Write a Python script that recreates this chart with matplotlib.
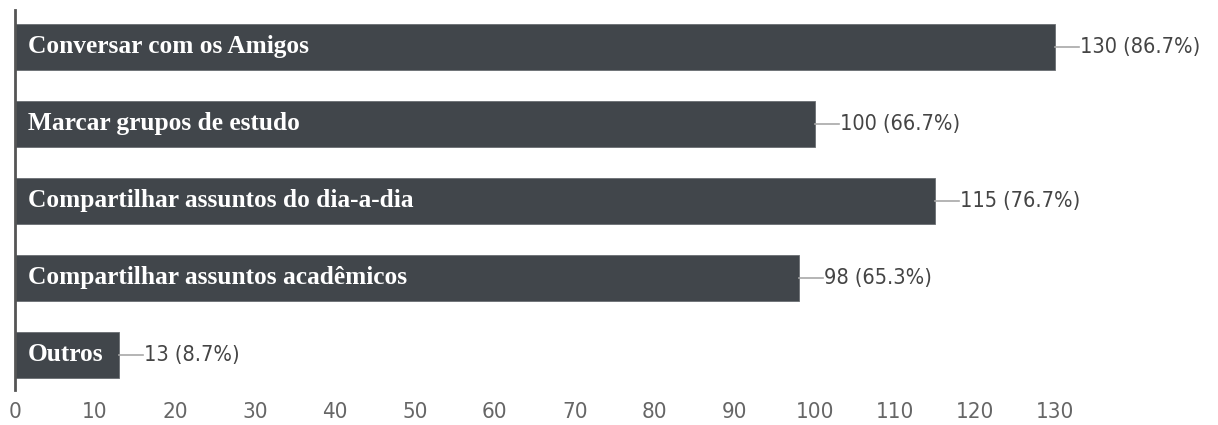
import matplotlib
matplotlib.use('Agg')
import matplotlib.pyplot as plt
import numpy as np

categories = ['Conversar com os Amigos', 'Marcar grupos de estudo',
              'Compartilhar assuntos do dia-a-dia', 'Compartilhar assuntos acadêmicos',
              'Outros']
counts = [130, 100, 115, 98, 13]
percents = [86.7, 66.7, 76.7, 65.3, 8.7]
xticks = list(range(0, 131, 10))

bar_color = '#41464b'
num_font = ['DejaVu Sans', 'Liberation Sans']

fig = plt.figure(figsize=(12.18, 4.25), dpi=100)
ax = fig.add_axes([15 / 1218, 35 / 425, 1203 / 1218, 380 / 425])

y = np.arange(len(categories))
bars = ax.barh(y, counts, height=0.6, color=bar_color, edgecolor='#6a6e72', linewidth=0.6)

for i, (cat, c, p) in enumerate(zip(categories, counts, percents)):
    # label inside the bar
    ax.text(1.6, i, cat, color='white', fontsize=18.3, fontweight='bold',
            family=['Liberation Serif', 'DejaVu Serif'], va='center', ha='left')
    # leader line + value label
    ax.plot([c, c + 3.0], [i, i], color='#a8a8a8', linewidth=1.2)
    ax.text(c + 3.1, i, f'{c} ({p}%)', color='#444444', fontsize=15.6,
            family=num_font, fontstretch='condensed', va='center', ha='left')

ax.set_xlim(0, 150.4)
ax.set_ylim(4.46, -0.48)
ax.set_xticks(xticks)
ax.set_xticklabels([str(t) for t in xticks], family=num_font, fontstretch='condensed',
                   fontsize=16, color='#666666')
ax.set_yticks([])
ax.tick_params(axis='x', length=0, pad=9)

for s in ['top', 'right', 'bottom']:
    ax.spines[s].set_visible(False)
ax.spines['left'].set_color('#555555')
ax.spines['left'].set_linewidth(2)

fig.savefig('out.png', dpi=100)
